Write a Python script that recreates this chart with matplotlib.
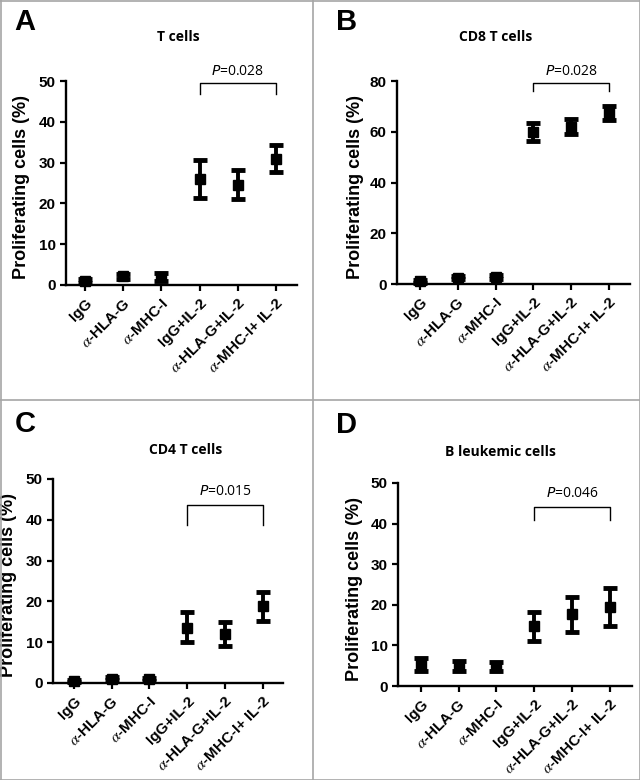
import matplotlib.pyplot as plt
from matplotlib.lines import Line2D

plt.rcParams['font.family'] = ['Liberation Sans', 'DejaVu Sans']

# Groups on the x axis
groups = ['IgG', r'$\alpha$-HLA-G', r'$\alpha$-MHC-I',
          'IgG+IL-2', r'$\alpha$-HLA-G+IL-2', r'$\alpha$-MHC-I+ IL-2']

# Panel A - T cells
t_mean = [1.0, 2.1, 2.0, 26.0, 24.6, 31.0]
t_low = [0.5, 1.5, 1.0, 21.3, 21.0, 27.6]
t_high = [1.5, 2.8, 3.0, 30.6, 28.3, 34.3]

# Panel B - CD8 T cells
cd8_mean = [1.0, 2.5, 2.8, 60.0, 62.0, 67.5]
cd8_low = [0.4, 1.9, 2.0, 56.5, 59.0, 64.5]
cd8_high = [1.7, 3.1, 3.6, 63.5, 65.0, 70.0]

# Panel C - CD4 T cells
cd4_mean = [0.5, 1.1, 0.9, 13.6, 12.0, 18.8]
cd4_low = [0.2, 0.8, 0.6, 10.0, 9.1, 15.1]
cd4_high = [0.8, 1.5, 1.2, 17.4, 15.0, 22.4]

# Panel D - B leukemic cells
b_mean = [5.3, 4.9, 4.6, 14.7, 17.7, 19.5]
b_low = [3.8, 3.7, 3.6, 11.2, 13.3, 14.9]
b_high = [7.0, 6.2, 5.8, 18.3, 22.0, 24.2]

W, H = 640, 780
fig = plt.figure(figsize=(6.4, 7.8), dpi=100)


def px_axes(x0, y0, x1, y1):
    # pixel box (top-down) -> figure fraction
    return fig.add_axes([x0 / W, 1 - y1 / H, (x1 - x0) / W, (y1 - y0) / H])


def panel(box, letter, letter_xy, title, title_xy, mean, low, high, ymax, step,
          pval, bracket, xlim, ylab_x):
    ax = px_axes(*box)
    x = list(range(len(groups)))
    err = [[m - l for m, l in zip(mean, low)], [h - m for m, h in zip(mean, high)]]
    ax.errorbar(x, mean, yerr=err, fmt='s', color='black', ms=7,
                capsize=5, elinewidth=2.8, capthick=3.5, clip_on=False, zorder=3)
    ax.set_xlim(*xlim)
    ax.set_ylim(0, ymax)
    ax.set_yticks(range(0, ymax + 1, step))
    ax.set_xticks(x)
    ax.set_xticklabels(groups, rotation=45, ha='right', rotation_mode='anchor',
                       fontsize=11, fontweight='bold', math_fontfamily='stix')
    for lbl in ax.get_yticklabels():
        lbl.set_fontweight('bold')
    ax.tick_params(axis='y', labelsize=11, width=1.6, length=4)
    ax.tick_params(axis='x', width=1.6, length=4, pad=4)
    for s in ['top', 'right']:
        ax.spines[s].set_visible(False)
    for s in ['left', 'bottom']:
        ax.spines[s].set_linewidth(1.7)
    ax.set_ylabel('Proliferating cells (%)', fontsize=13, fontweight='bold')
    ax.yaxis.set_label_coords(ylab_x, 0.48)

    # significance bracket between IgG+IL-2 and a-MHC-I+IL-2
    top, leg, ptxt = bracket
    ax.plot([3, 3, 5, 5], [leg, top, top, leg], color='black', lw=1, clip_on=False)
    ax.text(4, ptxt, '$P$=' + pval, ha='center', va='bottom', fontsize=10,
            family='Open Sans', math_fontfamily='dejavusans')

    fig.text(letter_xy[0] / W, 1 - letter_xy[1] / H, letter, fontsize=21,
             fontweight='bold', ha='center', va='center')
    fig.text(title_xy[0] / W, 1 - title_xy[1] / H, title, fontsize=10,
             fontweight='bold', family='Open Sans', ha='center', va='center')
    return ax


panel((66, 81, 297, 285), 'A', (25, 22), 'T cells', (178, 37),
      t_mean, t_low, t_high, 50, 10, '0.028', (49.5, 46.8, 50.5),
      (-0.5, 5.55), -0.155)
panel((397, 81, 630, 284), 'B', (347, 22), 'CD8 T cells', (496, 37),
      cd8_mean, cd8_low, cd8_high, 80, 20, '0.028', (79.2, 76.0, 80.6),
      (-0.6, 5.55), -0.14)
panel((53, 479, 283, 683), 'C', (25, 424), 'CD4 T cells', (186, 450),
      cd4_mean, cd4_low, cd4_high, 50, 10, '0.015', (43.6, 38.7, 45.2),
      (-0.55, 5.53), -0.155)
panel((398, 483, 632, 686), 'D', (347, 425), 'B leukemic cells', (500, 452),
      b_mean, b_low, b_high, 50, 10, '0.046', (44.1, 40.9, 45.6),
      (-0.6, 5.58), -0.15)

# gray panel borders
grey = '#a6a6a6'
for xs, ys in [([313, 313], [0, 780]), ([0, 640], [400, 400]),
               ([0.5, 0.5], [0, 780]), ([639.5, 639.5], [0, 780]),
               ([0, 640], [0.5, 0.5]), ([0, 640], [779.5, 779.5])]:
    fig.add_artist(Line2D([x / W for x in xs], [1 - y / H for y in ys],
                          color=grey, lw=1.2))

fig.savefig('out.png', dpi=100)
